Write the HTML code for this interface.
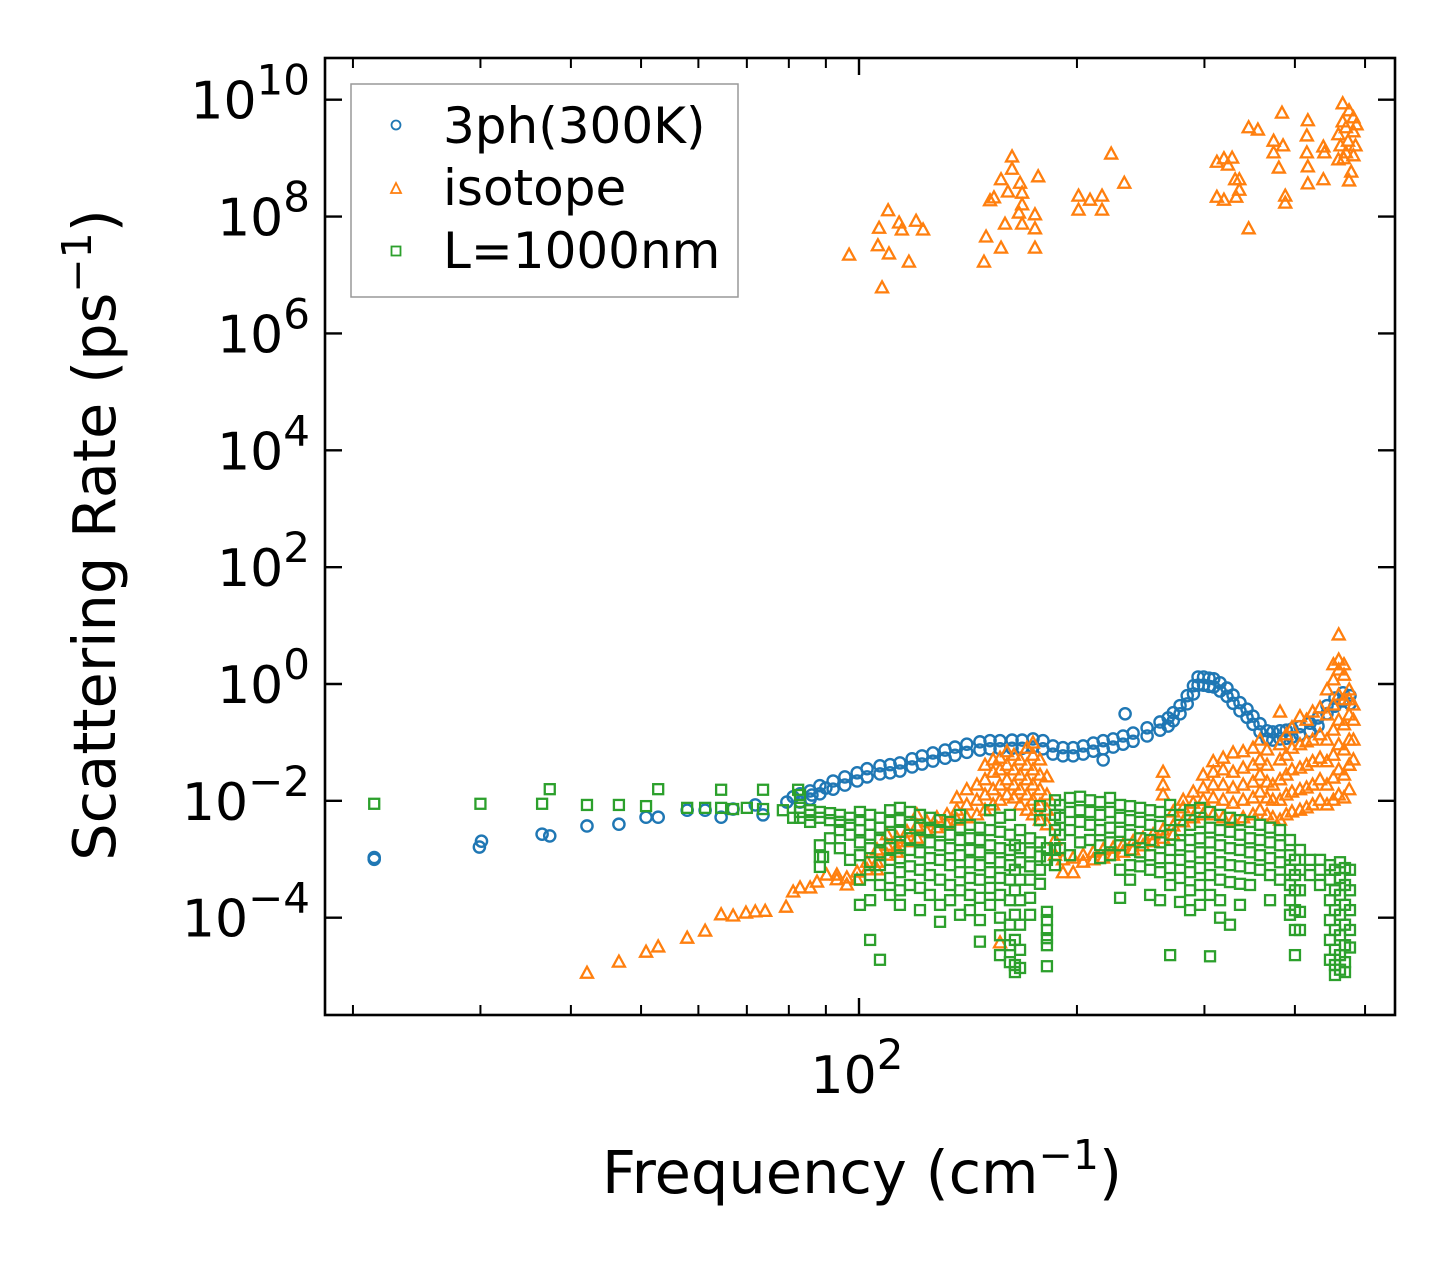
<!DOCTYPE html>
<html><head><meta charset="utf-8"><style>
html,body{margin:0;padding:0;background:#fff;}
svg{display:block;font-family:"DejaVu Sans","Liberation Sans",sans-serif;}
</style></head><body>
<svg id="chart" width="1455" height="1265" viewBox="0 0 1455 1265" xmlns="http://www.w3.org/2000/svg">
<rect x="0" y="0" width="1455" height="1265" fill="#fff"/>
<g id="marks"></g>
<g id="axes"></g>
<g id="legend">
  <rect x="351" y="84" width="387" height="213" fill="#fff" fill-opacity="0.8" stroke="#999" stroke-width="1.5"/>
  <circle cx="396" cy="125" r="4.5" fill="none" stroke="#1f77b4" stroke-width="1.8"/>
  <text x="443" y="143" font-size="50">3ph(300K)</text>
  <path d="M396,183 L401,193 L391,193 Z" fill="none" stroke="#ff7f0e" stroke-width="1.8"/>
  <text x="443" y="205" font-size="50">isotope</text>
  <rect x="391.5" y="246.5" width="9" height="9" fill="none" stroke="#2ca02c" stroke-width="1.8"/>
  <text x="443" y="268" font-size="50">L=1000nm</text>
</g>
<text x="862" y="1193" font-size="59" text-anchor="middle">Frequency (cm<tspan font-size="41" dy="-24">−1</tspan><tspan dy="24">)</tspan></text>
<text transform="translate(115,535) rotate(-90)" font-size="59" text-anchor="middle">Scattering Rate (ps<tspan font-size="41" dy="-24">−1</tspan><tspan dy="24">)</tspan></text>
</svg>
<script>
// ---- axis tick data ----
const yTickExps = [-4, -2, 0, 2, 4, 6, 8, 10];
const xMajorTicks = [100];
const xMinorTicks = [20, 30, 40, 50, 60, 70, 80, 90, 200, 300, 400, 500];

// ---- 3ph (300K) series: frequency (cm^-1) and log10 rate ----
const phFreq = [21.4,21.4,29.9,30.1,36.5,37.4,42.1,46.6,50.8,52.8,57.9,61.3,64.5,67.0,71.9,73.7,79.5,81.1,86.1,90.0,
82.9,82.9,85.6,85.6,88.3,88.3,92.1,92.1,95.6,95.6,99.4,99.4,102.6,102.6,106.9,106.9,110.4,110.4,113.9,113.9,
118.4,118.4,122.2,122.2,126.5,126.5,131.5,131.5,135.7,135.7,140.9,140.9,146.9,146.9,151.7,151.7,156.6,156.6,
162.7,162.7,168.0,168.0,173.9,173.9,179.5,179.5,185.3,185.3,191.3,191.3,197.6,197.6,204.0,204.0,210.7,210.7,
217.4,217.4,224.4,224.4,231.6,231.6,239.1,239.1,250.0,250.0,260.5,260.5,267.3,267.3,271.7,271.7,277.6,277.6,
284.0,284.0,289.7,289.7,294.0,294.0,299.2,299.2,304.4,304.4,309.0,309.0,315.3,315.3,322.3,322.3,328.6,328.6,
335.9,335.9,343.5,343.5,350.1,350.1,358.0,358.0,366.1,366.1,372.9,372.9,381.5,381.5,389.2,389.2,396.3,396.3,
406.5,406.5,419.7,419.7,430.5,430.5,443.0,443.0,454.4,454.4,466.1,466.1,476.6,476.6,233.1,217.4];
const phRateLog10 = [-3.00,-2.97,-2.79,-2.69,-2.57,-2.60,-2.43,-2.40,-2.28,-2.28,-2.16,-2.16,-2.28,-2.14,-2.07,-2.24,-2.02,-1.93,-1.90,-1.78,
-1.88,-2.02,-1.83,-1.97,-1.74,-1.88,-1.66,-1.80,-1.59,-1.73,-1.52,-1.66,-1.45,-1.59,-1.40,-1.54,-1.38,-1.52,-1.35,-1.49,
-1.28,-1.42,-1.23,-1.37,-1.18,-1.32,-1.13,-1.27,-1.08,-1.22,-1.03,-1.17,-0.99,-1.13,-0.97,-1.11,-0.97,-1.11,
-0.96,-1.10,-0.96,-1.10,-0.94,-1.08,-0.97,-1.11,-1.06,-1.20,-1.09,-1.23,-1.09,-1.23,-1.06,-1.20,-1.01,-1.15,
-0.97,-1.11,-0.94,-1.08,-0.89,-1.03,-0.84,-0.98,-0.75,-0.89,-0.65,-0.79,-0.58,-0.72,-0.49,-0.63,-0.37,-0.51,
-0.20,-0.34,-0.03,-0.17,0.12,-0.02,0.12,-0.02,0.10,-0.04,0.09,-0.05,0.02,-0.12,-0.07,-0.21,-0.19,-0.33,
-0.32,-0.46,-0.43,-0.57,-0.55,-0.69,-0.68,-0.82,-0.80,-0.94,-0.82,-0.96,-0.80,-0.94,-0.79,-0.93,-0.77,-0.91,
-0.73,-0.87,-0.67,-0.81,-0.58,-0.72,-0.37,-0.51,-0.24,-0.38,-0.15,-0.29,-0.20,-0.34,-0.51,-1.30];

// ---- isotope series ----
const isoFreq = [42.1,46.6,50.8,52.8,57.9,61.3,64.5,67.0,69.8,71.9,74.2,79.3,81.1,82.9,85.6,87.5,90.2,
93.2,93.2,96.2,96.2,99.4,99.4,102.6,102.6,105.9,105.9,105.9,109.3,109.3,109.3,112.8,112.8,112.8,116.5,116.5,
120.2,120.2,120.2,124.1,124.1,128.1,128.1,132.3,132.3,136.5,136.5,136.5,140.9,140.9,140.9,145.5,145.5,145.5,
149.3,149.3,149.3,149.3,153.2,153.2,153.2,153.2,156.6,156.6,156.6,156.6,156.6,160.1,160.1,160.1,160.1,
163.7,163.7,163.7,163.7,166.9,166.9,166.9,166.9,170.6,170.6,170.6,170.6,170.6,173.9,173.9,173.9,173.9,173.9,173.9,
177.8,177.8,177.8,177.8,177.8,181.8,181.8,181.8,181.8,186.5,186.5,191.3,191.3,197.6,197.6,204.0,204.0,210.7,210.7,
217.4,217.4,224.4,224.4,231.6,231.6,239.1,239.1,246.8,246.8,254.8,254.8,263.0,263.0,263.0,263.0,263.0,
271.7,271.7,271.7,280.4,280.4,280.4,289.5,289.5,289.5,298.8,298.8,298.8,298.8,308.5,308.5,308.5,308.5,308.5,
318.4,318.4,318.4,318.4,318.4,328.6,328.6,328.6,328.6,328.6,339.3,339.3,339.3,339.3,339.3,350.1,350.1,350.1,350.1,350.1,
358.0,358.0,358.0,358.0,358.0,366.1,366.1,366.1,366.1,366.1,372.9,372.9,372.9,381.5,381.5,381.5,381.5,381.5,381.5,
389.2,389.2,389.2,389.2,389.2,396.3,396.3,396.3,396.3,396.3,406.5,406.5,406.5,406.5,406.5,415.1,415.1,415.1,415.1,415.1,
423.2,423.2,423.2,423.2,423.2,433.3,433.3,433.3,433.3,433.3,443.0,443.0,443.0,443.0,443.0,443.0,
452.1,452.1,452.1,452.1,452.1,452.1,452.1,459.8,459.8,459.8,459.8,459.8,459.8,459.8,459.8,
467.6,467.6,467.6,467.6,467.6,467.6,467.6,475.4,475.4,475.4,475.4,475.4,475.4,475.4,481.8,481.8,481.8,481.8,
96.9,106.6,109.7,106.2,110.0,113.6,114.6,119.9,122.6,117.2,107.6,148.8,149.8,151.7,153.6,157.1,162.7,162.7,160.6,
166.9,168.0,168.0,166.3,159.1,168.0,175.0,175.0,175.0,176.8,157.1,201.0,201.0,208.5,216.6,216.6,223.0,232.5,
312.1,319.2,327.6,323.3,312.1,319.2,330.8,335.2,335.2,331.9,345.3,345.3,355.6,373.8,373.8,385.2,380.1,383.9,387.9,387.9,
416.8,415.5,415.5,416.8,416.8,437.9,437.9,439.3,
465.7,475.2,481.8,465.7,470.5,481.8,459.3,473.6,485.0,462.5,470.5,481.8,459.3,478.5,475.2,467.2,486.6];
const isoRateLog10 = [-4.95,-4.76,-4.59,-4.50,-4.35,-4.23,-3.95,-3.97,-3.92,-3.90,-3.89,-3.82,-3.56,-3.49,-3.49,-3.39,-3.27,
-3.27,-3.35,-3.32,-3.44,-3.35,-3.22,-3.18,-3.05,-3.05,-2.84,-3.18,-2.93,-2.76,-2.58,-2.81,-2.64,-2.88,-2.70,-2.53,
-2.64,-2.43,-2.24,-2.53,-2.36,-2.46,-2.29,-2.41,-2.24,-2.33,-1.95,-2.16,-2.29,-2.07,-1.81,-2.24,-1.99,-1.73,
-2.16,-1.90,-1.64,-1.39,-2.07,-1.81,-1.51,-1.30,-1.99,-1.73,-1.47,-1.27,-4.43,-1.90,-1.64,-1.39,-1.16,
-1.95,-1.73,-1.47,-1.22,-2.07,-1.81,-1.56,-1.30,-2.16,-1.90,-1.64,-1.39,-1.10,-2.24,-1.99,-1.73,-1.47,-1.22,-1.01,
-2.33,-2.07,-1.81,-1.56,-1.30,-2.41,-2.16,-1.90,-1.59,-2.67,-2.93,-3.01,-3.23,-2.98,-3.23,-2.93,-3.05,-2.88,-3.01,
-2.84,-2.98,-2.81,-2.93,-2.76,-2.88,-2.70,-2.84,-2.64,-2.77,-2.58,-2.70,-2.50,-1.51,-1.73,-1.90,-2.64,
-2.43,-2.19,-2.58,-2.36,-2.12,-1.99,-2.29,-2.04,-1.85,-2.24,-1.99,-1.78,-1.56,-2.24,-1.95,-1.73,-1.51,-1.33,
-2.29,-1.99,-1.73,-1.47,-1.27,-2.33,-2.04,-1.78,-1.51,-1.18,-2.29,-1.99,-1.73,-1.44,-1.16,-2.24,-1.95,-1.68,-1.39,-1.10,
-2.16,-1.85,-1.56,-1.30,-0.96,-2.24,-1.95,-1.68,-1.39,-1.13,-2.29,-1.99,-1.73,-2.33,-1.99,-1.64,-1.30,-1.04,-0.48,
-2.24,-1.90,-1.56,-1.22,-0.87,-2.19,-1.85,-1.47,-1.10,-0.75,-2.16,-1.81,-1.44,-1.04,-0.56,-2.12,-1.78,-1.39,-0.99,-0.62,
-2.07,-1.73,-1.33,-0.96,-0.48,-1.99,-1.64,-1.27,-0.87,-0.41,-2.07,-1.73,-1.33,-0.96,-0.53,-0.10,
-1.99,-1.61,-1.22,-0.79,-0.36,0.07,0.33,-1.90,-1.47,-1.04,-0.62,-0.19,0.24,0.41,0.84,
-1.95,-1.56,-1.13,-0.70,-0.27,0.15,0.33,-1.81,-1.39,-0.96,-0.53,-0.27,-0.10,-1.39,-1.30,-0.96,-0.62,-0.36,
7.34,7.80,8.10,7.50,7.36,7.89,7.77,7.92,7.77,7.22,6.78,7.22,7.65,8.27,8.32,8.63,9.02,8.81,8.42,
8.57,8.40,8.20,8.06,7.87,7.87,8.03,7.79,7.46,8.68,7.46,8.35,8.11,8.28,8.35,8.11,9.07,8.57,
8.93,8.99,9.00,8.88,8.33,8.28,8.63,8.63,8.45,8.33,7.79,9.52,9.48,9.29,9.09,9.21,8.83,9.77,8.35,8.23,
9.64,9.38,9.09,8.85,8.56,8.63,9.19,9.09,
9.93,9.81,9.69,9.62,9.52,9.45,9.40,9.29,9.21,9.21,9.09,9.04,8.97,8.76,8.61,8.99,9.57];

// ---- boundary (L=1000nm) series: columns of frequency, each with several log10 rates ----
const bndFreq = [21.4,30.0,36.5,37.4,42.1,46.6,50.8,52.8,57.9,61.3,64.5,67.0,70.0,73.7,78.5,81.1,82.4,89.2,
82.9,85.6,88.3,91.2,94.1,97.2,100.3,103.6,106.9,110.4,113.9,117.6,121.4,125.3,129.4,133.6,137.9,142.3,146.9,151.7,
156.6,161.6,164.2,166.9,172.3,177.8,181.8,186.5,189.5,195.6,202.0,208.5,215.3,222.2,229.4,236.8,244.5,252.4,260.5,
269.0,277.6,286.6,295.8,305.4,315.3,325.4,335.9,346.8,358.0,369.6,381.5,393.8,400.1,406.5,419.7,433.3,447.2,454.4,
461.7,469.1,476.6];
const bndRateLog10 = [[-2.05],[-2.05],[-2.05],[-1.80],[-2.07],[-2.07],[-2.09],[-1.80],[-2.12],[-2.12],[-1.81,-2.12],[-2.14],[-2.12],[-1.81,-2.14],[-2.16],[-2.29],[-1.81],[-2.96],
[-2.12,-2.19,-2.29,-1.90],[-2.16,-2.24,-2.36],[-2.19,-2.29,-2.76,-2.96,-3.13],[-2.21,-2.33,-2.64],[-2.24,-2.36,-2.50,-2.81],
[-2.29,-2.41,-2.58,-3.01],[-2.19,-2.33,-2.50,-2.71,-2.93,-3.35,-3.78],[-2.24,-2.41,-2.58,-2.81,-3.05,-3.27,-3.70,-4.38],
[-2.29,-2.46,-2.67,-2.88,-3.10,-3.44,-4.72],[-2.16,-2.36,-2.58,-2.81,-3.01,-3.32,-3.61],[-2.12,-2.33,-2.53,-2.76,-2.98,-3.22,-3.53,-3.78],
[-2.19,-2.41,-2.64,-2.84,-3.12,-3.44],[-2.24,-2.46,-2.67,-2.88,-3.18,-3.49,-3.87],[-2.29,-2.50,-2.71,-2.98,-3.27,-3.61],
[-2.33,-2.53,-2.76,-3.01,-3.35,-3.78,-4.07],[-2.36,-2.58,-2.81,-3.10,-3.44,-3.70],[-2.24,-2.46,-2.67,-2.93,-3.22,-3.53,-3.95],
[-2.41,-2.64,-2.84,-3.05,-3.32,-3.61,-3.87],[-2.46,-2.67,-2.88,-3.10,-3.35,-3.66,-4.04,-4.41],[-2.16,-2.50,-2.76,-2.98,-3.22,-3.49,-3.78],
[-2.29,-2.53,-2.81,-3.05,-3.32,-3.61,-4.00,-4.30,-4.64],[-2.24,-2.58,-2.84,-3.10,-3.35,-3.70,-4.12,-4.47,-4.76],
[-2.76,-3.18,-3.53,-3.95,-4.38,-4.81,-4.93],[-2.50,-2.81,-3.05,-3.35,-3.70,-4.12,-4.55,-4.86],[-2.64,-2.88,-3.12,-3.35,-3.66,-3.95],
[-2.09,-2.33,-2.71,-2.95,-3.18,-3.42],[-2.81,-3.01,-3.90,-4.04,-4.21,-4.35,-4.47,-4.83],[-1.99,-2.24,-2.50,-2.84,-3.10],
[-2.07,-2.29,-2.58,-2.81],[-1.95,-2.19,-2.50,-2.93],[-1.93,-2.16,-2.36,-2.71],[-1.99,-2.19,-2.41,-2.67],
[-2.02,-2.24,-2.50,-2.76,-2.98],[-1.95,-2.19,-2.46,-2.71,-2.93],[-2.07,-2.29,-2.53,-2.76,-3.18,-3.66],
[-2.09,-2.33,-2.58,-2.84,-3.10,-3.35],[-2.12,-2.36,-2.64,-2.88,-3.12],[-2.16,-2.41,-2.67,-2.93,-3.18,-3.61],
[-2.19,-2.43,-2.71,-2.98,-3.22,-3.70],[-2.07,-2.33,-2.58,-2.84,-3.15,-3.44,-4.64],[-2.24,-2.50,-2.76,-3.01,-3.32,-3.73],
[-2.16,-2.41,-2.67,-2.95,-3.22,-3.53,-3.87],[-2.12,-2.36,-2.64,-2.88,-3.15,-3.44,-3.78],[-2.19,-2.46,-2.71,-2.98,-3.27,-3.61,-4.66],
[-2.24,-2.50,-2.76,-3.05,-3.35,-3.70,-4.00],[-2.29,-2.53,-2.81,-3.10,-3.39,-4.12],[-2.33,-2.58,-2.84,-3.12,-3.42,-3.78],
[-2.36,-2.64,-2.88,-3.15,-3.44],[-2.41,-2.67,-2.93,-3.18],[-2.46,-2.71,-2.98,-3.27,-3.70],[-2.50,-2.76,-3.05,-3.35],
[-2.67,-2.93,-3.18,-3.44,-3.70,-3.95],[-3.01,-3.27,-3.53,-3.87,-4.21,-4.64],[-2.84,-3.18,-3.53,-3.90,-4.21],
[-3.01,-3.27],[-3.01,-3.18,-3.44],[-3.10,-3.35,-3.70,-4.04,-4.38,-4.72],[-3.18,-3.53,-3.87,-4.21,-4.55,-4.81,-4.98],
[-3.05,-3.32,-3.61,-3.95,-4.30,-4.64,-4.89],[-3.15,-3.44,-3.78,-4.12,-4.47,-4.76,-4.93],[-3.18,-3.53,-3.87,-4.21,-4.51]];

// ---- axis functions ----
const PX = {left: 325, right: 1395, top: 58, bottom: 1015};
function xScale(f) { return 859 + 724 * Math.log10(f / 100); }
function yScale(lg) { return 684 - 58.43 * lg; }

const NS = 'http://www.w3.org/2000/svg';
const marks = document.getElementById('marks');
const axes = document.getElementById('axes');
function mk(tag, attrs, parent) {
  const el = document.createElementNS(NS, tag);
  for (const k in attrs) el.setAttribute(k, attrs[k]);
  parent.appendChild(el);
  return el;
}

const gPh = mk('g', {}, marks);


const gIso = mk('g', {}, marks);


const gBnd = mk('g', {}, marks);



phFreq.forEach((f, i) => {
  const c = mk('circle', {cx: xScale(f), cy: yScale(phRateLog10[i]), r: 5.6, fill: 'none', stroke: '#1f77b4', 'stroke-width': 2.4}, gPh);
  
  
});
isoFreq.forEach((f, i) => {
  const x = xScale(f), y = yScale(isoRateLog10[i]);
  const p = mk('path', {d: `M${x},${y-6.5} L${x+6},${y+4.5} L${x-6},${y+4.5} Z`, fill: 'none', stroke: '#ff7f0e', 'stroke-width': 2.3}, gIso);
  
  
});
bndFreq.forEach((f, i) => {
  bndRateLog10[i].forEach(lg => {
    const x = xScale(f), y = yScale(lg);
    const r = mk('rect', {x: x - 5, y: y - 5, width: 10, height: 10, fill: 'none', stroke: '#2ca02c', 'stroke-width': 2.3}, gBnd);
    
    
  });
});

// ---- axes frame & ticks ----
const frame = mk('rect', {x: PX.left, y: PX.top, width: PX.right - PX.left, height: PX.bottom - PX.top, fill: 'none', stroke: '#000', 'stroke-width': 2.6}, axes);



yTickExps.forEach(e => {
  const y = yScale(e);
  const t1 = mk('line', {x1: PX.left, x2: PX.left + 17, y1: y, y2: y, stroke: '#000', 'stroke-width': 2.4}, axes);
  
  
  const t2 = mk('line', {x1: PX.right, x2: PX.right - 17, y1: y, y2: y, stroke: '#000', 'stroke-width': 2.4}, axes);
  
  
  const lab = mk('text', {x: 310, y: y + 19, 'font-size': 52, 'text-anchor': 'end'}, axes);
  
  
  lab.innerHTML = '10<tspan font-size="42" dy="-24">' + (e < 0 ? '−' + (-e) : e) + '</tspan>';
});
xMajorTicks.forEach(f => {
  const x = xScale(f);
  const t1 = mk('line', {x1: x, x2: x, y1: PX.bottom, y2: PX.bottom - 17, stroke: '#000', 'stroke-width': 2.4}, axes);
  
  
  const t2 = mk('line', {x1: x, x2: x, y1: PX.top, y2: PX.top + 17, stroke: '#000', 'stroke-width': 2.4}, axes);
  
  
  const lab = mk('text', {x: x - 2, y: 1093, 'font-size': 52, 'text-anchor': 'middle'}, axes);
  
  
  lab.innerHTML = '10<tspan font-size="42" dy="-24">' + Math.round(Math.log10(f)) + '</tspan>';
});
xMinorTicks.forEach(f => {
  const x = xScale(f);
  const t1 = mk('line', {x1: x, x2: x, y1: PX.bottom, y2: PX.bottom - 10, stroke: '#000', 'stroke-width': 2}, axes);
  
  
  const t2 = mk('line', {x1: x, x2: x, y1: PX.top, y2: PX.top + 10, stroke: '#000', 'stroke-width': 2}, axes);
  
  
});
</script>
</body></html>
